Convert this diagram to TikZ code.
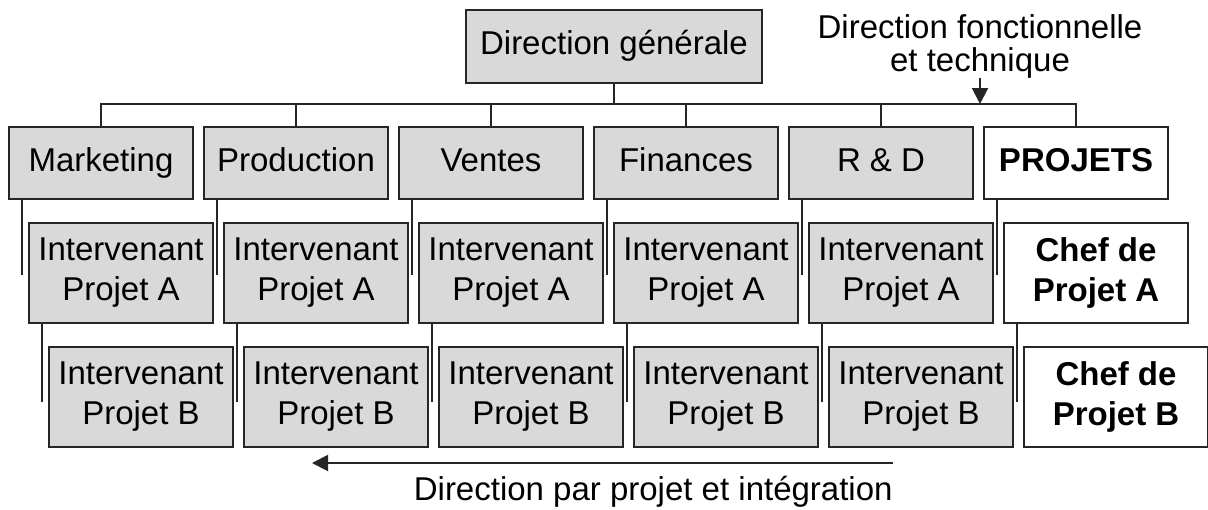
\documentclass[tikz,border=0pt]{standalone}
\usepackage{fontspec}
\setmainfont{Liberation Sans}
\usetikzlibrary{arrows.meta}

\begin{document}
\begin{tikzpicture}[
  x=0.5pt, y=-0.5pt,
  every node/.style={font=\fontsize{16.5}{20}\selectfont, align=center, inner sep=0pt},
  cell/.style={draw=black!85, line width=1pt, fill=gray!30, minimum width=92pt},
  service/.style={cell, minimum height=36pt, text height=12pt, text depth=3.5pt},
  interv/.style={cell, minimum height=50pt},
  chef/.style={fill=white, font=\fontsize{16.5}{20}\selectfont\bfseries},
  link/.style={draw=black!85, line width=1pt},
  flow/.style={link, -{Triangle[length=8pt,width=8pt]}}
]
\useasboundingbox (0,0) rectangle (1208,509);

\node[service, minimum width=148pt, minimum height=36.5pt] (dg) at (614,46) {Direction générale};

% services
\node[service] (mkt)  at (101,163)  {Marketing};
\node[service] (prod) at (296,163)  {Production};
\node[service] (vte)  at (491,163)  {Ventes};
\node[service] (fin)  at (686,163)  {Finances};
\node[service] (rd)   at (881,163)  {R \& D};
\node[service, chef] (proj) at (1076,163) {PROJETS};

% projet A
\node[interv] (mktA)  at (121,273)  {Intervenant\\Projet A};
\node[interv] (prodA) at (316,273)  {Intervenant\\Projet A};
\node[interv] (vteA)  at (511,273)  {Intervenant\\Projet A};
\node[interv] (finA)  at (706,273)  {Intervenant\\Projet A};
\node[interv] (rdA)   at (901,273)  {Intervenant\\Projet A};
\node[interv, chef] (chefA) at (1096,273) {Chef de\\Projet A};

% projet B
\node[interv] (mktB)  at (141,397)  {Intervenant\\Projet B};
\node[interv] (prodB) at (336,397)  {Intervenant\\Projet B};
\node[interv] (vteB)  at (531,397)  {Intervenant\\Projet B};
\node[interv] (finB)  at (726,397)  {Intervenant\\Projet B};
\node[interv] (rdB)   at (921,397)  {Intervenant\\Projet B};
\node[interv, chef] (chefB) at (1116,397) {Chef de\\Projet B};

% hierarchy
\coordinate (bus) at (0,104);
\draw[link] (dg) -- (dg |- bus);
\draw[link] (mkt.north) -- (mkt.north |- bus) -- (proj.north |- bus) -- (proj.north);
\draw[link] (prod.north) -- (prod.north |- bus)
  (vte.north) -- (vte.north |- bus)
  (fin.north) -- (fin.north |- bus)
  (rd.north) -- (rd.north |- bus);

\draw[link] ([xshift=7pt]mkt.south west) -- ++(0,75)
  ([xshift=7pt]prod.south west) -- ++(0,75)
  ([xshift=7pt]vte.south west) -- ++(0,75)
  ([xshift=7pt]fin.south west) -- ++(0,75)
  ([xshift=7pt]rd.south west) -- ++(0,75)
  ([xshift=7pt]proj.south west) -- ++(0,75);
\draw[link] ([xshift=7pt]mktA.south west) -- ++(0,78)
  ([xshift=7pt]prodA.south west) -- ++(0,78)
  ([xshift=7pt]vteA.south west) -- ++(0,78)
  ([xshift=7pt]finA.south west) -- ++(0,78)
  ([xshift=7pt]rdA.south west) -- ++(0,78)
  ([xshift=7pt]chefA.south west) -- ++(0,78);

% the two directions
\node[font=\fontsize{16.5}{16.5}\selectfont] (dft) at (980,46) {Direction fonctionnelle\\et technique};
\draw[flow] (dft.south) -- (dft.south |- bus);

\node[anchor=north east] (dpi) at (893,476) {Direction par projet et intégration};
\coordinate (dpiEnd) at (312,463);
\draw[flow] (895,463 -| dpi.north east) -- (dpiEnd);
\end{tikzpicture}
\end{document}
